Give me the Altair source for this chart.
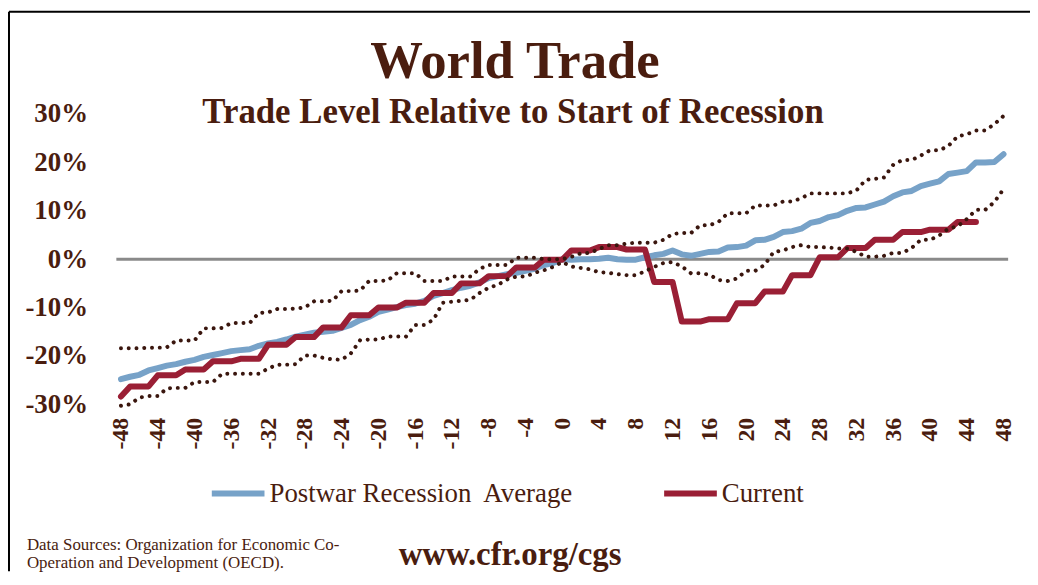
import altair as alt
import pandas as pd

# ---------------- data ----------------
months = list(range(-48, 49))

postwar_avg = [
    -24.8, -24.3, -23.9, -23.0, -22.5, -22.0, -21.7, -21.2, -20.8, -20.2,
    -19.8, -19.4, -19.0, -18.8, -18.6, -17.9, -17.4, -17.1, -16.6, -16.0,
    -15.6, -15.2, -15.0, -14.8, -14.2, -13.6, -12.6, -11.9, -10.9, -10.4,
    -9.9, -9.5, -9.2, -8.6, -7.6, -7.0, -6.4, -5.9, -5.5, -4.8,
    -3.9, -3.5, -3.1, -2.8, -2.4, -2.0, -1.2, -0.8, 0.0,
    -0.1, 0.0, 0.0, 0.1, 0.3, 0.0, -0.1, -0.1, 0.4, 0.8,
    1.1, 1.8, 1.0, 0.7, 1.1, 1.5, 1.6, 2.4, 2.5, 2.8,
    3.9, 4.0, 4.6, 5.6, 5.8, 6.3, 7.5, 7.9, 8.7, 9.1,
    10.0, 10.6, 10.7, 11.3, 11.9, 13.0, 13.8, 14.1, 15.1, 15.6,
    16.1, 17.6, 17.9, 18.2, 20.0, 20.0, 20.1, 21.7,
]

upper_band = [
    -18.4, -18.4, -18.4, -18.3, -18.3, -18.2, -16.8, -16.8, -16.8, -14.3,
    -14.3, -14.2, -13.2, -13.2, -13.2, -11.1, -11.0, -10.3, -10.3, -10.2,
    -10.0, -8.7, -8.7, -8.6, -6.6, -6.6, -6.5, -4.5, -4.5, -4.4,
    -2.9, -2.9, -2.9, -4.5, -4.5, -4.5, -3.6, -3.6, -3.6, -2.0,
    -1.2, -1.2, -1.2, 0.3, 0.3, 0.3, 0.0, 0.0, 0.0,
    0.5, 1.2, 1.3, 2.1, 2.9, 2.9, 3.2, 3.4, 3.4, 3.4,
    4.0, 5.2, 5.4, 5.4, 7.0, 7.0, 7.7, 9.5, 9.5, 9.5,
    11.1, 11.1, 11.1, 11.9, 11.9, 12.6, 13.6, 13.6, 13.6, 13.6,
    13.6, 14.2, 16.4, 16.6, 16.9, 19.5, 20.5, 20.5, 21.4, 22.5,
    22.5, 23.4, 25.4, 25.8, 26.6, 26.6, 27.9, 29.6,
]

lower_band = [
    -30.3, -30.0, -28.6, -28.3, -28.3, -26.7, -26.6, -26.6, -25.4, -25.4,
    -25.4, -23.7, -23.7, -23.7, -23.7, -23.7, -22.6, -21.8, -21.8, -21.7,
    -19.9, -19.9, -20.4, -20.7, -20.8, -19.5, -16.8, -16.6, -16.6, -16.0,
    -16.0, -16.0, -13.6, -13.6, -12.5, -9.0, -8.8, -8.6, -8.4, -7.0,
    -5.9, -5.3, -4.2, -3.6, -3.6, -2.8, -2.3, -1.6, -0.6,
    -1.5, -1.8, -2.1, -2.7, -2.8, -3.1, -3.3, -3.3, -2.5, -1.6,
    -0.8, -0.6, -1.5, -2.9, -2.9, -3.2, -4.3, -4.5, -4.0, -2.4,
    -2.4, -1.2, 1.5, 1.8, 2.5, 2.9, 2.5, 2.5, 2.4, 2.2,
    2.2, 1.5, 0.5, 0.5, 0.7, 1.3, 1.3, 2.3, 4.0, 4.0,
    4.9, 6.3, 6.8, 8.3, 10.2, 10.2, 11.8, 14.5,
]

current_months = list(range(-48, 46))
current = [
    -28.4,
    -26.3, -26.3, -26.3, -24.0, -24.0, -24.0, -22.8, -22.8, -22.8,
    -21.1, -21.1, -21.1, -20.6, -20.6, -20.6, -17.7, -17.7, -17.7,
    -16.1, -16.1, -16.1, -14.1, -14.1, -14.1, -11.6, -11.6, -11.6,
    -10.0, -10.0, -10.0, -9.0, -9.0, -9.0, -7.0, -7.0, -7.0,
    -5.0, -5.0, -5.0, -3.5, -3.5, -3.5, -1.7, -1.7, -1.7,
    -0.1, -0.1, -0.1, 1.8, 1.8, 1.8, 2.5, 2.5, 2.5,
    2.0, 2.0, 2.0, -4.7, -4.7, -4.7, -12.9, -12.9, -12.9,
    -12.4, -12.4, -12.4, -9.1, -9.1, -9.1, -6.7, -6.7, -6.7,
    -3.3, -3.3, -3.3, 0.4, 0.4, 0.4, 2.3, 2.3, 2.3,
    4.0, 4.0, 4.0, 5.6, 5.6, 5.6, 6.1, 6.1, 6.1,
    7.7, 7.7, 7.7,
]

x_ticks = list(range(-48, 49, 4))
y_ticks = [-30, -20, -10, 0, 10, 20, 30]
series_names = ["Postwar Recession\u00a0 Average", "Current"]
series_colors = ["#77a2c8", "#9a1f35"]

title_text = "World Trade"
subtitle_text = "Trade Level Relative to Start of Recession"
source_lines = ["Data Sources: Organization for Economic Co-",
                "Operation and Development (OECD)."]
url_text = "www.cfr.org/cgs"

# ---------------- tables ----------------
df_avg = pd.DataFrame({"month": months, "value": postwar_avg, "series": series_names[0]})
df_cur = pd.DataFrame({"month": current_months, "value": current, "series": series_names[1]})
df_band = pd.concat([
    pd.DataFrame({"month": months, "value": upper_band, "band": "upper"}),
    pd.DataFrame({"month": months, "value": lower_band, "band": "lower"}),
])

BROWN = "#4a1d0f"
FONT = "Liberation Serif"
W, H = 897, 292
PAD_L, PAD_T = 109, 105
SVG_W, SVG_H = 1028, 565

x_scale = alt.Scale(domain=[-48.5, 48.5], nice=False, zero=False)
y_scale = alt.Scale(domain=[-30, 30], nice=False, zero=False)

x_enc = alt.X("month:Q", scale=x_scale, title=None,
              axis=alt.Axis(values=x_ticks, labelExpr="datum.value + ''",
                            labelAngle=270, labelAlign="right",
                            labelBaseline="middle", labelPadding=13,
                            labelFont=FONT, labelFontSize=24, labelFontWeight="bold",
                            labelColor=BROWN, domain=False, ticks=False, grid=False,
                            labelOverlap=False, labelFlush=False, labelBound=False))
y_enc = alt.Y("value:Q", scale=y_scale, title=None,
              axis=alt.Axis(values=y_ticks, labelExpr="datum.value + '%'",
                            labelPadding=29, labelFont=FONT, labelFontSize=27,
                            labelFontWeight="bold", labelColor=BROWN,
                            domain=False, ticks=False, grid=False))

color_enc = alt.Color("series:N",
                      scale=alt.Scale(domain=series_names, range=series_colors),
                      legend=alt.Legend(orient="none", legendX=93, legendY=352,
                                        direction="horizontal", title=None,
                                        symbolType="stroke", symbolSize=2809,
                                        symbolStrokeWidth=6, labelFont=FONT,
                                        labelFontSize=27, labelColor=BROWN,
                                        labelOffset=2, columnPadding=78,
                                        labelLimit=400))

zero_line = alt.Chart(pd.DataFrame({"value": [0]})).mark_rule(
    color="#8a8a8a", strokeWidth=3).encode(y=y_enc)

blue = alt.Chart(df_avg).mark_line(strokeWidth=6, strokeCap="round", strokeJoin="round").encode(
    x=x_enc, y=y_enc, color=color_enc)
red = alt.Chart(df_cur).mark_line(strokeWidth=6, strokeCap="round", strokeJoin="round").encode(
    x=x_enc, y=y_enc, color=color_enc)
dots = alt.Chart(df_band).mark_line(color="#3a160e", strokeWidth=4, strokeCap="round",
                                    strokeDash=[0.01, 7.8]).encode(
    x=x_enc, y=y_enc, detail="band:N")

def text_layer(txt, px, py, size, weight="normal", align="center"):
    return alt.Chart(pd.DataFrame({"t": [txt]})).mark_text(
        font=FONT, fontSize=size, fontWeight=weight, color=BROWN,
        align=align, baseline="alphabetic").encode(
        x=alt.value(px - PAD_L - 8), y=alt.value(py - PAD_T - 8), text="t:N")

title = text_layer(title_text, 518, 77, 53, "bold")
subtitle = text_layer(subtitle_text, 516, 122, 35, "bold")
src1 = text_layer(source_lines[0], 27, 552, 17, "normal", "left")
src2 = text_layer(source_lines[1], 27, 570, 17, "normal", "left")
url = text_layer(url_text, 513, 567, 33, "bold")

frame_left = alt.Chart(pd.DataFrame({"k": [0]})).mark_rule(color="#000000", strokeWidth=2).encode(
    x=alt.value(9 - PAD_L - 8), y=alt.value(10 - PAD_T - 8), y2=alt.value(SVG_H - PAD_T))
frame_top = alt.Chart(pd.DataFrame({"k": [0]})).mark_rule(color="#000000", strokeWidth=2).encode(
    x=alt.value(9 - PAD_L - 8), x2=alt.value(SVG_W - PAD_L), y=alt.value(10 - PAD_T - 8))

chart = alt.layer(
    frame_left, frame_top, zero_line, blue, red, dots,
    title, subtitle, src1, src2, url,
).properties(
    width=W, height=H,
    padding={"left": PAD_L, "top": PAD_T, "right": SVG_W - PAD_L - W, "bottom": SVG_H - PAD_T - H},
    autosize=alt.AutoSizeParams(type="none"),
    background="white",
).configure_view(stroke=None)

chart.save("out.html", embed_options={"renderer": "svg", "actions": False})
